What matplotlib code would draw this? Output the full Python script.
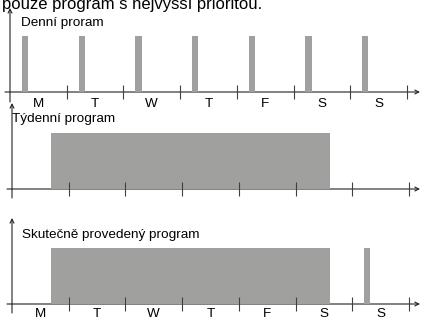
import matplotlib.pyplot as plt

plt.rcParams['font.family'] = ['Liberation Sans', 'DejaVu Sans']

# days of the week (labels under the time axis)
days = ['M', 'T', 'W', 'T', 'F', 'S', 'S']
day_edges = [1, 2, 3, 4, 5, 6, 7]

# daily program: start of each run in days from Monday 0:00, and run length
daily_start = [0.21, 1.21, 2.21, 3.21, 4.21, 5.21, 6.21]
daily_len = 0.11

# weekly program: one long block
weekly_start = [0.69]
weekly_end = [5.61]

# program that actually runs (weekly has priority, daily fills the rest)
actual_start = [0.69, 6.21]
actual_end = [5.61, 6.32]

GRAY = '#a0a09f'
LINE = '#222222'
W, H = 422, 320
DAY = 56.7   # px per day
UNIT = 56.0  # px per bar height

fig = plt.figure(figsize=(W / 100, H / 100), dpi=100)


def panel(top, bottom, axis_y, x0, y_top, y_bot, x_start, labels, pad=4):
    ax = fig.add_axes([0, 1 - bottom / H, 1, (bottom - top) / H])
    ax.set_facecolor('none')
    ax.set_xlim(-x0 / DAY, (W - x0) / DAY)
    ax.set_ylim((axis_y - bottom) / UNIT, (axis_y - top) / UNIT)
    for s in ax.spines.values():
        s.set_color('none')
    ax.spines['bottom'].set_position(('data', 0))
    ax.set_yticks([])
    ax.set_xticks(day_edges, [''] * len(day_edges))
    ax.tick_params(which='major', direction='inout', length=10, width=0.8, color='#404040')
    if labels:
        ax.set_xticks([d + 0.5 for d in range(7)], days, minor=True)
        ax.tick_params(which='minor', length=0, pad=pad, labelsize=9.7)
    arrow = dict(arrowstyle='->', lw=0.8, color=LINE, mutation_scale=7, shrinkA=0, shrinkB=0)
    # time axis
    ax.annotate('', xy=((420 - x0) / DAY, 0), xytext=((x_start - x0) / DAY, 0),
                arrowprops=arrow, zorder=0.5, annotation_clip=False)
    # vertical axis
    ax.annotate('', xy=(0, (axis_y - y_top) / UNIT), xytext=(0, (axis_y - y_bot) / UNIT),
                arrowprops=arrow, zorder=0.5, annotation_clip=False)
    return ax


ax1 = panel(0, 112, 92, 10, 8, 102, 5, True)
ax1.bar(daily_start, 1, width=daily_len, align='edge', color=GRAY, zorder=1)

ax2 = panel(100, 205, 189, 12, 103, 198, 7, False)
ax2.bar(weekly_start, 1, width=[e - s for s, e in zip(weekly_start, weekly_end)],
        align='edge', color=GRAY, zorder=1)

ax3 = panel(212, 320, 304, 12, 218, 313, 7, True, pad=3)
ax3.bar(actual_start, 1, width=[e - s for s, e in zip(actual_start, actual_end)],
        align='edge', color=GRAY, zorder=1)

# texts
fig.text(2 / W, 1 - 9.5 / H, 'pouze program s nejvyšší prioritou.', fontsize=12, va='baseline')
fig.text(21 / W, 1 - 26 / H, 'Denní proram', fontsize=9.7, va='baseline')
fig.text(12 / W, 1 - 122 / H, 'Týdenní program', fontsize=9.7, va='baseline')
fig.text(22 / W, 1 - 238 / H, 'Skutečně provedený program', fontsize=9.7, va='baseline')

fig.savefig('out.png', dpi=100)
